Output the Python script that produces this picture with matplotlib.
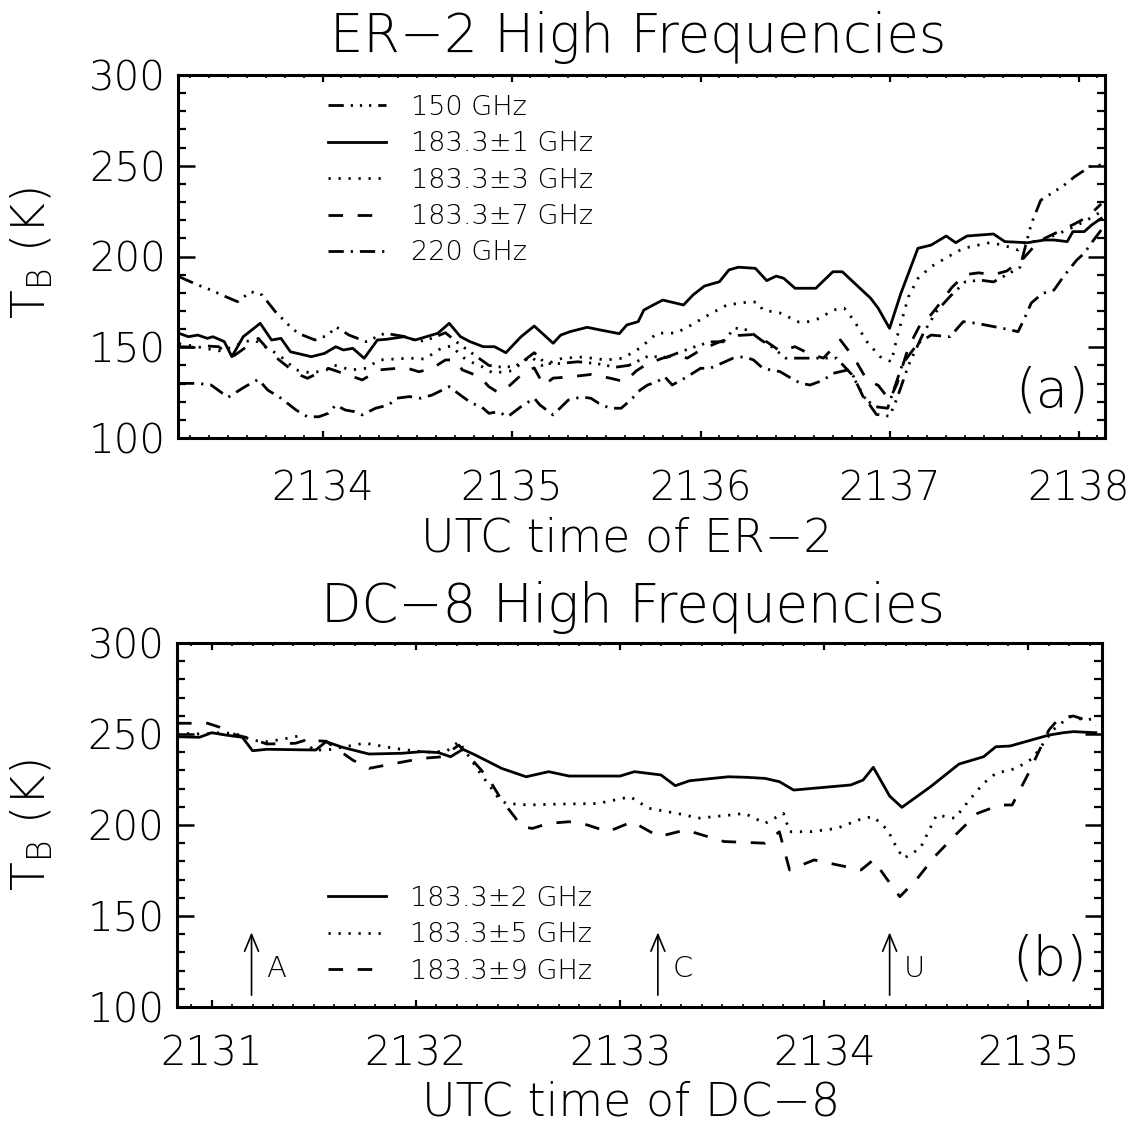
import matplotlib
matplotlib.use("Agg")
import matplotlib.pyplot as plt
from matplotlib.ticker import MultipleLocator, FixedLocator

plt.rcParams['font.family'] = ['DejaVu Sans']
plt.rcParams['font.weight'] = 'light'
plt.rcParams['lines.scale_dashes'] = False

# ---------------- Panel (a): ER-2 ----------------
er2_title = "ER\u22122 High Frequencies"
er2_xlabel = "UTC time of ER\u22122"
er2_labels = ["150 GHz", "183.3\u00b11 GHz", "183.3\u00b13 GHz", "183.3\u00b17 GHz", "220 GHz"]
er2_xticks = [2134, 2135, 2136, 2137, 2138]

t150 = [2133.24, 2133.34, 2133.41, 2133.48, 2133.55, 2133.62, 2133.68, 2133.75, 2133.82, 2133.87,
        2133.96, 2134.03, 2134.07, 2134.14, 2134.23, 2134.33, 2134.44, 2134.51, 2134.58, 2134.65,
        2134.72, 2134.80, 2134.88, 2134.95, 2135.02, 2135.07, 2135.12, 2135.18, 2135.25, 2135.35,
        2135.45, 2135.55, 2135.62, 2135.72, 2135.82, 2135.95, 2136.05, 2136.12, 2136.18, 2136.25,
        2136.32, 2136.38, 2136.45, 2136.55, 2136.65, 2136.72, 2136.80, 2136.87, 2136.93, 2137.00,
        2137.04, 2137.10, 2137.18, 2137.25, 2137.32, 2137.40, 2137.48, 2137.55, 2137.62, 2137.69,
        2137.75, 2137.80, 2137.92, 2137.98, 2138.06, 2138.12]
tb150 = [188.9, 184.3, 181.5, 178.2, 175.1, 180.6, 178.8, 169.6, 162.3, 157.7,
         154.0, 156.7, 161.3, 156.7, 153.1, 157.7, 155.8, 153.1, 155.0, 158.0,
         152.0, 146.0, 140.0, 139.0, 139.5, 143.0, 147.0, 141.0, 141.0, 142.0,
         141.0, 139.0, 140.0, 145.0, 144.5, 149.6, 153.0, 153.0, 160.6, 159.5,
         154.0, 150.0, 144.0, 144.0, 144.0, 144.0, 135.0, 122.0, 113.0, 112.0,
         122.0, 140.0, 158.0, 170.0, 178.0, 186.0, 187.0, 186.0, 190.0, 194.0,
         218.0, 231.0, 239.0, 244.0, 249.5, 250.5]

t1 = [2133.24, 2133.29, 2133.34, 2133.39, 2133.42, 2133.48, 2133.52, 2133.58, 2133.67, 2133.73,
      2133.78, 2133.83, 2133.94, 2134.01, 2134.07, 2134.11, 2134.16, 2134.22, 2134.29, 2134.34,
      2134.43, 2134.49, 2134.61, 2134.67, 2134.73, 2134.78, 2134.85, 2134.91, 2134.97, 2135.05,
      2135.12, 2135.22, 2135.26, 2135.31, 2135.40, 2135.47, 2135.57, 2135.61, 2135.67, 2135.70,
      2135.75, 2135.80, 2135.91, 2135.96, 2136.02, 2136.10, 2136.15, 2136.20, 2136.29, 2136.35,
      2136.40, 2136.44, 2136.50, 2136.61, 2136.70, 2136.75, 2136.90, 2136.94, 2137.00, 2137.06,
      2137.15, 2137.22, 2137.30, 2137.35, 2137.41, 2137.55, 2137.61, 2137.73, 2137.82, 2137.87,
      2137.94, 2137.97, 2138.03, 2138.07, 2138.12]
tb1 = [157.7, 155.8, 156.7, 154.9, 155.8, 153.1, 144.8, 155.8, 163.2, 154.0,
       154.9, 147.5, 144.8, 146.6, 150.3, 148.5, 149.4, 143.9, 154.0, 154.4,
       155.8, 154.0, 157.7, 163.2, 155.8, 153.1, 150.3, 150.3, 147.0, 155.8,
       161.7, 152.2, 156.7, 158.6, 161.0, 159.5, 157.5, 162.3, 164.1, 170.5,
       173.3, 176.0, 173.3, 178.8, 183.7, 186.1, 192.6, 194.1, 193.5, 186.7,
       189.2, 188.0, 182.5, 182.5, 191.6, 191.6, 177.0, 171.5, 160.4, 179.7,
       204.5, 206.3, 211.3, 207.6, 211.3, 212.4, 208.2, 207.6, 209.1, 209.1,
       208.2, 213.7, 213.7, 217.4, 221.0]

t3 = [2133.24, 2133.35, 2133.45, 2133.52, 2133.59, 2133.64, 2133.70, 2133.77, 2133.86, 2133.94,
      2134.02, 2134.06, 2134.15, 2134.23, 2134.30, 2134.46, 2134.54, 2134.63, 2134.68, 2134.76,
      2134.86, 2134.90, 2135.00, 2135.10, 2135.16, 2135.27, 2135.38, 2135.50, 2135.59, 2135.68,
      2135.77, 2135.87, 2135.95, 2136.05, 2136.14, 2136.25, 2136.30, 2136.33, 2136.42, 2136.52,
      2136.57, 2136.63, 2136.70, 2136.76, 2136.81, 2136.88, 2136.95, 2137.01, 2137.04, 2137.10,
      2137.15, 2137.22, 2137.31, 2137.39, 2137.47, 2137.53, 2137.60, 2137.68, 2137.71, 2137.81,
      2137.94, 2138.03, 2138.12]
tb3 = [152.0, 150.0, 148.0, 150.0, 153.1, 154.0, 150.0, 145.7, 137.5, 135.8,
       137.5, 140.2, 137.5, 138.4, 143.0, 144.0, 143.5, 149.6, 150.7, 143.0,
       138.6, 135.8, 137.0, 145.0, 140.0, 144.0, 144.6, 143.0, 144.0, 149.6,
       157.8, 157.8, 162.2, 168.3, 173.3, 174.9, 174.9, 170.5, 168.9, 163.9,
       164.1, 165.9, 170.5, 171.5, 165.0, 153.1, 144.8, 142.0, 155.8, 177.8,
       187.9, 194.4, 199.9, 204.5, 206.3, 207.6, 206.3, 203.6, 207.3, 209.1,
       214.6, 219.2, 224.7]

t7 = [2133.24, 2133.32, 2133.38, 2133.45, 2133.52, 2133.66, 2133.73, 2133.77, 2133.86, 2133.92,
      2134.03, 2134.15, 2134.21, 2134.30, 2134.35, 2134.44, 2134.51, 2134.58, 2134.65, 2134.70,
      2134.74, 2134.83, 2134.88, 2134.93, 2134.98, 2135.07, 2135.12, 2135.17, 2135.22, 2135.30,
      2135.42, 2135.52, 2135.60, 2135.66, 2135.72, 2135.80, 2135.87, 2135.93, 2136.00, 2136.10,
      2136.20, 2136.28, 2136.35, 2136.42, 2136.50, 2136.57, 2136.65, 2136.74, 2136.78, 2136.83,
      2136.88, 2136.94, 2137.00, 2137.04, 2137.10, 2137.17, 2137.22, 2137.28, 2137.33, 2137.40,
      2137.47, 2137.55, 2137.62, 2137.70, 2137.76, 2137.82, 2137.90, 2137.98, 2138.05, 2138.12]
tb7 = [150.3, 150.0, 150.7, 150.3, 144.5, 154.9, 146.6, 143.0, 135.6, 132.9,
       138.4, 134.2, 132.0, 137.5, 138.0, 138.7, 136.5, 138.4, 143.0, 143.0,
       137.5, 133.8, 128.3, 125.0, 128.0, 136.5, 138.6, 129.0, 133.0, 133.6,
       135.0, 133.0, 131.0, 137.0, 141.0, 144.0, 145.6, 144.0, 148.5, 153.0,
       156.5, 157.0, 153.0, 148.0, 150.3, 146.7, 144.0, 154.0, 148.5, 141.0,
       132.0, 129.0, 121.0, 130.0, 150.0, 164.0, 168.0, 176.0, 183.0, 190.0,
       191.0, 190.0, 192.0, 198.0, 205.0, 210.0, 214.0, 218.0, 222.0, 229.0]

t220 = [2133.24, 2133.34, 2133.41, 2133.50, 2133.59, 2133.66, 2133.71, 2133.78, 2133.86, 2133.92,
        2133.98, 2134.03, 2134.07, 2134.12, 2134.17, 2134.21, 2134.28, 2134.35, 2134.39, 2134.46,
        2134.52, 2134.58, 2134.67, 2134.74, 2134.79, 2134.84, 2134.88, 2134.93, 2134.98, 2135.05,
        2135.12, 2135.15, 2135.22, 2135.30, 2135.37, 2135.42, 2135.46, 2135.52, 2135.58, 2135.63,
        2135.68, 2135.72, 2135.77, 2135.81, 2135.85, 2135.93, 2136.00, 2136.05, 2136.11, 2136.17,
        2136.23, 2136.28, 2136.33, 2136.37, 2136.42, 2136.48, 2136.53, 2136.58, 2136.65, 2136.70,
        2136.78, 2136.81, 2136.86, 2136.92, 2136.99, 2137.01, 2137.07, 2137.15, 2137.22, 2137.32,
        2137.39, 2137.46, 2137.60, 2137.68, 2137.71, 2137.75, 2137.81, 2137.87, 2137.92, 2137.99,
        2138.03, 2138.08, 2138.12]
tb220 = [130.1, 130.1, 129.2, 122.4, 128.3, 132.3, 126.4, 121.9, 115.4, 111.7,
         111.7, 113.6, 118.2, 115.4, 114.5, 112.7, 116.4, 118.2, 121.9, 122.8,
         121.9, 123.7, 128.3, 122.8, 119.1, 117.3, 113.6, 114.5, 111.7, 117.3,
         121.9, 118.2, 112.7, 120.9, 122.6, 121.9, 119.2, 116.4, 116.4, 120.9,
         126.4, 129.2, 131.0, 133.8, 129.2, 133.8, 138.4, 138.4, 141.1, 143.9,
         144.8, 143.0, 138.4, 137.5, 136.6, 132.9, 130.1, 129.2, 131.9, 135.6,
         137.5, 133.8, 122.8, 117.3, 116.4, 122.8, 141.1, 152.1, 156.7, 155.8,
         164.1, 163.2, 160.4, 158.6, 165.0, 174.4, 179.7, 181.5, 188.9, 198.0,
         201.8, 209.1, 214.6]

# ---------------- Panel (b): DC-8 ----------------
dc8_title = "DC\u22128 High Frequencies"
dc8_xlabel = "UTC time of DC\u22128"
dc8_labels = ["183.3\u00b12 GHz", "183.3\u00b15 GHz", "183.3\u00b19 GHz"]
dc8_xticks = [2131, 2132, 2133, 2134, 2135]

d2_t = [2130.83, 2130.94, 2131.00, 2131.07, 2131.15, 2131.20, 2131.27, 2131.51, 2131.56, 2131.64,
        2131.77, 2131.93, 2132.03, 2132.11, 2132.17, 2132.23, 2132.29, 2132.42, 2132.54, 2132.65,
        2132.75, 2132.89, 2133.00, 2133.07, 2133.20, 2133.27, 2133.34, 2133.53, 2133.62, 2133.71,
        2133.78, 2133.85, 2134.03, 2134.13, 2134.19, 2134.24, 2134.32, 2134.38, 2134.52, 2134.66,
        2134.78, 2134.84, 2134.91, 2135.10, 2135.17, 2135.22, 2135.33]
d2_tb = [248.5, 248.2, 250.7, 249.4, 248.2, 240.8, 241.6, 241.2, 245.8, 242.7,
         239.0, 239.4, 240.3, 239.8, 237.5, 241.6, 238.5, 231.1, 226.5, 229.3,
         226.9, 226.9, 226.9, 229.3, 227.5, 221.6, 224.3, 226.5, 226.2, 225.6,
         223.8, 219.2, 221.0, 222.0, 224.7, 231.7, 215.9, 209.7, 221.0, 233.5,
         237.5, 243.0, 243.4, 249.4, 250.7, 251.3, 250.7]

d5_t = [2130.83, 2130.95, 2131.05, 2131.12, 2131.20, 2131.27, 2131.34, 2131.43, 2131.50, 2131.58,
        2131.75, 2131.90, 2132.05, 2132.15, 2132.21, 2132.31, 2132.40, 2132.44, 2132.55, 2132.70,
        2132.89, 2133.05, 2133.14, 2133.32, 2133.38, 2133.54, 2133.61, 2133.71, 2133.80, 2133.83,
        2133.93, 2134.06, 2134.19, 2134.24, 2134.31, 2134.36, 2134.39, 2134.47, 2134.55, 2134.64,
        2134.71, 2134.78, 2134.84, 2134.94, 2135.02, 2135.12, 2135.20, 2135.28, 2135.33]
d5_tb = [250.4, 250.0, 250.8, 250.0, 246.5, 245.8, 247.0, 249.0, 241.0, 241.5,
         245.0, 242.0, 240.0, 240.5, 245.8, 229.3, 215.5, 211.9, 211.0, 211.5,
         211.8, 215.5, 209.2, 205.5, 203.7, 205.5, 206.4, 200.9, 206.4, 196.3,
         196.3, 198.1, 203.7, 204.6, 197.3, 186.3, 181.7, 187.2, 205.5, 203.7,
         213.7, 222.9, 228.4, 231.1, 236.6, 252.2, 259.5, 257.7, 258.6]

d9_t = [2130.83, 2130.98, 2131.04, 2131.12, 2131.19, 2131.27, 2131.41, 2131.46, 2131.56, 2131.69,
        2131.77, 2131.90, 2132.03, 2132.13, 2132.21, 2132.32, 2132.37, 2132.42, 2132.52, 2132.57,
        2132.65, 2132.75, 2132.84, 2132.94, 2133.06, 2133.19, 2133.32, 2133.51, 2133.71, 2133.78,
        2133.83, 2133.95, 2134.18, 2134.24, 2134.31, 2134.37, 2134.45, 2134.54, 2134.65, 2134.75,
        2134.86, 2134.92, 2135.00, 2135.10, 2135.15, 2135.22, 2135.28, 2135.33]
d9_tb = [255.9, 255.9, 253.7, 249.4, 247.6, 244.5, 244.9, 246.7, 246.0, 235.7,
         231.1, 233.9, 236.6, 237.5, 243.9, 230.2, 222.9, 213.7, 199.1, 198.1,
         200.9, 201.8, 200.0, 196.3, 201.8, 193.6, 197.3, 190.9, 190.0, 196.3,
         175.3, 180.8, 175.3, 180.8, 169.8, 160.6, 169.8, 182.6, 195.4, 206.4,
         211.0, 211.0, 228.4, 252.2, 258.6, 259.9, 257.7, 254.9]

marker_names = ["A", "C", "U"]
marker_times = [2131.195, 2133.185, 2134.32]

# ---------------- styles ----------------
LW = 2.0
ST_SOLID = '-'
ST_DOT = (0, (1.6, 5.6))
ST_DASH = (0, (10.5, 10.5))
ST_DASHDOT = (0, (11, 5, 1.6, 5))
ST_DASH3DOT = (0, (11, 5, 1.6, 5, 1.6, 5, 1.6, 5))

fig = plt.figure(figsize=(11.36, 11.25), dpi=100)
W, H = 1136.0, 1125.0


def axes_px(l, t, r, b):
    return fig.add_axes([l / W, 1 - b / H, (r - l) / W, (b - t) / H])


ax1 = axes_px(178, 75, 1105, 438)
ax2 = axes_px(177, 643, 1102, 1007)


def style_axis(ax, xlim, xticks, xpad):
    ax.set_xlim(*xlim)
    ax.set_ylim(100, 300)
    ax.xaxis.set_major_locator(FixedLocator(xticks))
    ax.xaxis.set_minor_locator(MultipleLocator(0.1))
    ax.yaxis.set_major_locator(MultipleLocator(50))
    ax.yaxis.set_minor_locator(MultipleLocator(10))
    ax.set_xticklabels([str(v) for v in xticks])
    for s in ax.spines.values():
        s.set_linewidth(2.2)
    ax.tick_params(axis='y', which='major', direction='in', length=12, width=1.8,
                   left=True, right=True, labelsize=29, pad=9)
    ax.tick_params(axis='y', which='minor', direction='in', length=6, width=1.6,
                   left=True, right=True)
    ax.tick_params(axis='x', which='major', direction='in', length=5, width=1.6,
                   top=True, bottom=True, labelsize=29, pad=xpad)
    ax.tick_params(axis='x', which='minor', direction='in', length=2.5, width=1.2,
                   top=True, bottom=True)


# ---- panel a ----
style_axis(ax1, (2133.235, 2138.14), er2_xticks, 23)
ax1.plot(t150, tb150, color='black', lw=LW, linestyle=ST_DASH3DOT, label=er2_labels[0])
ax1.plot(t1, tb1, color='black', lw=LW, linestyle=ST_SOLID, label=er2_labels[1])
ax1.plot(t3, tb3, color='black', lw=LW, linestyle=ST_DOT, label=er2_labels[2])
ax1.plot(t7, tb7, color='black', lw=LW, linestyle=ST_DASH, label=er2_labels[3])
ax1.plot(t220, tb220, color='black', lw=LW, linestyle=ST_DASHDOT, label=er2_labels[4])
leg1 = ax1.legend(loc='upper left', bbox_to_anchor=(0.162, 0.945), frameon=False,
                  fontsize=19.5, handlelength=2.15, handletextpad=0.9, labelspacing=0.42,
                  borderpad=0, borderaxespad=0)
ax1.text(0.943, 0.128, "(a)", transform=ax1.transAxes, fontsize=38,
         ha='center', va='center')

# ---- panel b ----
style_axis(ax2, (2130.83, 2135.36), dc8_xticks, 20)
ax2.plot(d2_t, d2_tb, color='black', lw=LW, linestyle=ST_SOLID, label=dc8_labels[0])
ax2.plot(d5_t, d5_tb, color='black', lw=LW, linestyle=ST_DOT, label=dc8_labels[1])
ax2.plot(d9_t, d9_tb, color='black', lw=LW, linestyle=ST_DASH, label=dc8_labels[2])
leg2 = ax2.legend(loc='upper left', bbox_to_anchor=(0.163, 0.333), frameon=False,
                  fontsize=19.5, handlelength=2.15, handletextpad=0.9, labelspacing=0.42,
                  borderpad=0, borderaxespad=0)
ax2.text(0.943, 0.13, "(b)", transform=ax2.transAxes, fontsize=38,
         ha='center', va='center')

for name, tm in zip(marker_names, marker_times):
    ax2.annotate("", xy=(tm, 141), xytext=(tm, 106.5),
                 arrowprops=dict(arrowstyle='->,head_length=0.6,head_width=0.25',
                                 color='black', lw=1.2, mutation_scale=20,
                                 shrinkA=0, shrinkB=0))
    ax2.text(tm + 0.07, 121, name, fontsize=21, ha='left', va='center')

# ---- titles / labels ----
fig.text(638 / W, 1 - 38 / H, er2_title, fontsize=38, ha='center', va='center')
fig.text(627 / W, 1 - 538 / H, er2_xlabel, fontsize=33, ha='center', va='center')
fig.text(633 / W, 1 - 607 / H, dc8_title, fontsize=38, ha='center', va='center')
fig.text(631 / W, 1 - 1102 / H, dc8_xlabel, fontsize=33, ha='center', va='center')
ylab = r"T$_\mathregular{B}$ (K)"
fig.text(32 / W, 1 - 253 / H, ylab, fontsize=34, rotation=90, ha='center', va='center')
fig.text(32 / W, 1 - 825 / H, ylab, fontsize=34, rotation=90, ha='center', va='center')

fig.savefig("out.png", dpi=100, facecolor='white')
